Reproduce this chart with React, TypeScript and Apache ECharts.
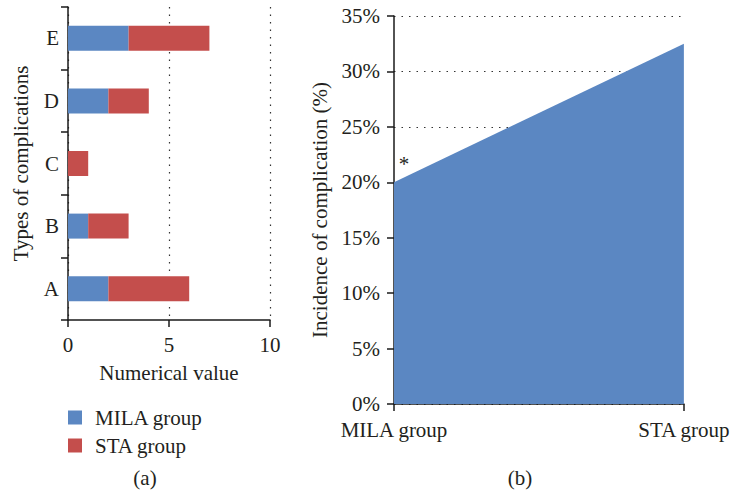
import React, { useEffect, useRef } from "react";
import * as echarts from "echarts";

const complicationTypes = ["A", "B", "C", "D", "E"];
const milaCounts = [2, 1, 0, 2, 3];
const staCounts = [4, 2, 1, 2, 4];
const numericTicks = { min: 0, max: 10, interval: 5 };

const groupNames = ["MILA group", "STA group"];
const incidence = [20, 32.5];
const incidenceAxis = { min: 0, max: 35, interval: 5 };

const BLUE = "#5b87c2";
const RED = "#c44e4c";
const FONT = "Liberation Serif";
const TXT = "#231f20";
const FS = 21;

export default function App() {
  const ref = useRef<HTMLDivElement>(null);
  useEffect(() => {
    document.body.style.margin = "0";
    const chart = echarts.init(ref.current!, null, { renderer: "svg" });
    const axisLine = { show: true, lineStyle: { color: "#1a1a1a", width: 1.5 } };
    const tick = { show: true, length: 7, lineStyle: { color: "#1a1a1a", width: 1.5 } };
    const lbl = { color: TXT, fontFamily: FONT, fontSize: FS };
    const dotted = { show: true, lineStyle: { type: [1.5, 6], color: "#333", width: 1.2 } };
    chart.setOption({
      animation: false,
      textStyle: { fontFamily: FONT, color: TXT },
      grid: [
        { left: 68, top: 7, width: 202, height: 313 },
        { left: 394, top: 16, width: 292, height: 388 },
      ],
      legend: {
        orient: "vertical",
        left: 68,
        top: 407,
        padding: 0,
        itemWidth: 14,
        itemHeight: 14,
        itemGap: 7,
        icon: "rect",
        data: ["MILA group", "STA group"],
        textStyle: { ...lbl, padding: [0, 0, 0, 8] },
      },
      xAxis: [
        {
          gridIndex: 0,
          type: "value",
          ...numericTicks,
          axisLine,
          axisTick: tick,
          axisLabel: { ...lbl, margin: 14 },
          splitLine: dotted,
          name: "Numerical value",
          nameLocation: "middle",
          nameGap: 42,
          nameTextStyle: lbl,
        },
        {
          gridIndex: 1,
          type: "category",
          data: groupNames,
          boundaryGap: false,
          axisLine,
          axisTick: tick,
          axisLabel: { ...lbl, margin: 15 },
          splitLine: { show: false },
        },
      ],
      yAxis: [
        {
          gridIndex: 0,
          type: "category",
          data: complicationTypes,
          axisLine,
          axisTick: { ...tick, alignWithLabel: false },
          axisLabel: { ...lbl, margin: 9 },
          name: "Types of complications",
          nameLocation: "middle",
          nameGap: 37,
          nameTextStyle: lbl,
        },
        {
          gridIndex: 1,
          type: "value",
          ...incidenceAxis,
          axisLine,
          axisTick: tick,
          axisLabel: { ...lbl, margin: 14, formatter: "{value}%" },
          splitLine: dotted,
          name: "Incidence of complication (%)",
          nameLocation: "middle",
          nameGap: 64,
          nameTextStyle: lbl,
        },
      ],
      series: [
        {
          name: "MILA group",
          type: "bar",
          stack: "total",
          xAxisIndex: 0,
          yAxisIndex: 0,
          barWidth: 25,
          itemStyle: { color: BLUE },
          data: milaCounts,
        },
        {
          name: "STA group",
          type: "bar",
          stack: "total",
          xAxisIndex: 0,
          yAxisIndex: 0,
          barWidth: 25,
          itemStyle: { color: RED },
          data: staCounts,
        },
        {
          name: "Incidence",
          type: "line",
          xAxisIndex: 1,
          yAxisIndex: 1,
          symbol: "none",
          lineStyle: { width: 0 },
          areaStyle: { color: BLUE, opacity: 1 },
          data: incidence,
          markPoint: {
            symbol: "circle",
            symbolSize: 2,
            itemStyle: { color: "rgba(0,0,0,0)" },
            data: [
              {
                coord: [0, incidence[0]],
                label: {
                  show: true,
                  position: "inside",
                  formatter: "*",
                  color: TXT,
                  fontFamily: FONT,
                  fontSize: FS,
                  offset: [10, -18],
                },
              },
            ],
          },
        },
      ],
      graphic: [
        { type: "text", x: 145, y: 478, style: { text: "(a)", font: `${FS}px ${FONT}`, fill: TXT, textAlign: "center", textVerticalAlign: "middle" } },
        { type: "text", x: 520, y: 478, style: { text: "(b)", font: `${FS}px ${FONT}`, fill: TXT, textAlign: "center", textVerticalAlign: "middle" } },
      ],
    });
    return () => chart.dispose();
  }, []);
  return <div ref={ref} style={{ width: 733, height: 494 }} />;
}
